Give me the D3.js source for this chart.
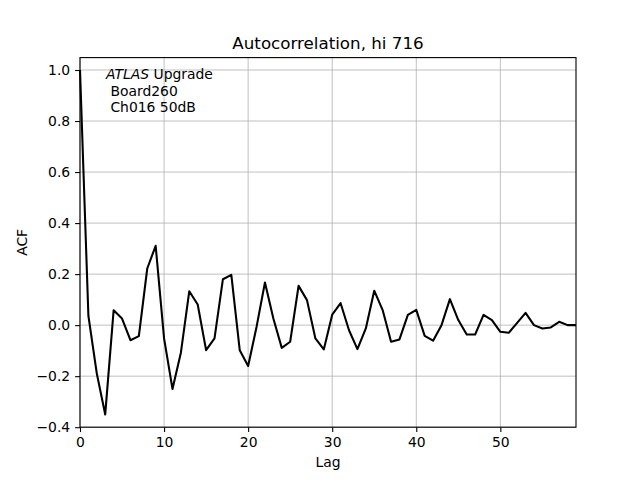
<!DOCTYPE html>
<html>
<head>
<meta charset="utf-8">
<script src="https://cdn.jsdelivr.net/npm/d3@7"></script>
<style>
  body { margin: 0; background: #fff; }
  text { font-family: "DejaVu Sans", sans-serif; fill: #000; }
</style>
</head>
<body>
<div class="acf-chart-container"></div>
<script>
// ACF values, lag 0..59
var lags = d3.range(0, 60);
var acfValues = [
    1.0, 0.036, -0.19, -0.35, 0.058, 0.026, -0.059, -0.043, 0.222, 0.311,
    -0.052, -0.25, -0.108, 0.133, 0.081, -0.098, -0.052, 0.18, 0.197, -0.098,
    -0.16, -0.007, 0.167, 0.026, -0.089, -0.065, 0.154, 0.098, -0.052, -0.095,
    0.041, 0.086, -0.02, -0.094, -0.013, 0.135, 0.059, -0.065, -0.056, 0.04,
    0.06, -0.042, -0.061, 0.0, 0.102, 0.02, -0.037, -0.037, 0.04, 0.02,
    -0.026, -0.03, 0.009, 0.048, 0.0, -0.013, -0.009, 0.013, 0.0, 0.0
];
var xTicks = [0, 10, 20, 30, 40, 50];
var yTicks = [-0.4, -0.2, 0.0, 0.2, 0.4, 0.6, 0.8, 1.0];
var titleText = "Autocorrelation, hi 716";
var noteLines = [" Board260", " Ch016 50dB"];

var margin = { top: 57.6, right: 64, bottom: 52.8, left: 80 },
    width = 640 - margin.left - margin.right,
    height = 480 - margin.top - margin.bottom;

var svg = d3.select('.acf-chart-container')
    .append('svg')
    .attr("width", 640)
    .attr("height", 480)
    .append("g")
    .attr("transform", "translate(" + margin.left + "," + margin.top + ")");

var x = d3.scaleLinear()
    .domain([0, 59])
    .range([0, width]);

var y = d3.scaleLinear()
    .domain([-0.4, 1.0486])
    .range([height, 0]);

// grid
svg.append("g")
    .selectAll("line")
    .data(xTicks)
    .enter().append("line")
    .attr("x1", function(d) { return x(d); })
    .attr("x2", function(d) { return x(d); })
    .attr("y1", 0)
    .attr("y2", height)
    .attr("stroke", "#b0b0b0")
    .attr("stroke-width", 0.8);

svg.append("g")
    .selectAll("line")
    .data(yTicks)
    .enter().append("line")
    .attr("x1", 0)
    .attr("x2", width)
    .attr("y1", function(d) { return y(d); })
    .attr("y2", function(d) { return y(d); })
    .attr("stroke", "#b0b0b0")
    .attr("stroke-width", 0.8);

// acf line
var line = d3.line()
    .x(function(d, i) { return x(lags[i]); })
    .y(function(d) { return y(d); });

svg.append("path")
    .datum(acfValues)
    .attr("fill", "none")
    .attr("stroke", "#000")
    .attr("stroke-width", 2.08)
    .attr("stroke-linejoin", "round")
    .attr("d", line);

// axes
var xAxis = d3.axisBottom(x)
    .tickValues(xTicks)
    .tickFormat(d3.format("d"))
    .tickSize(4.9)
    .tickPadding(4.9);

var yAxis = d3.axisLeft(y)
    .tickValues(yTicks)
    .tickFormat(function(d) { return d3.format(".1f")(d).replace("-", "\u2212"); })
    .tickSize(4.9)
    .tickPadding(4.9);

var gx = svg.append("g")
    .attr("transform", "translate(0," + height + ")")
    .call(xAxis);
var gy = svg.append("g")
    .call(yAxis);

[gx, gy].forEach(function(g) {
    g.select(".domain").remove();
    g.selectAll(".tick line").attr("stroke", "#000").attr("stroke-width", 1.1);
    g.selectAll(".tick text")
        .style("font-family", "DejaVu Sans")
        .style("font-size", "13.9px")
        .attr("fill", "#000");
});

// frame
svg.append("rect")
    .attr("width", width)
    .attr("height", height)
    .attr("fill", "none")
    .attr("stroke", "#000")
    .attr("stroke-width", 1.1);

// title and labels
svg.append("text")
    .attr("x", width / 2)
    .attr("y", -8.5)
    .attr("text-anchor", "middle")
    .style("font-size", "16.7px")
    .text(titleText);

svg.append("text")
    .attr("x", width / 2)
    .attr("y", height + 40.3)
    .attr("text-anchor", "middle")
    .style("font-size", "13.9px")
    .text("Lag");

svg.append("text")
    .attr("transform", "translate(" + (-53.5) + "," + (height / 2) + ") rotate(-90)")
    .attr("text-anchor", "middle")
    .style("font-size", "13.9px")
    .text("ACF");

// note
var note = svg.append("text")
    .attr("x", 26)
    .attr("y", 21.5)
    .style("font-size", "13.9px");
note.append("tspan").style("font-style", "italic").text("ATLAS");
note.append("tspan").text(" Upgrade");

svg.selectAll(".note-line")
    .data(noteLines)
    .enter().append("text")
    .attr("class", "note-line")
    .attr("x", 26)
    .attr("y", function(d, i) { return 21.5 + 16.5 * (i + 1); })
    .attr("xml:space", "preserve")
    .style("white-space", "pre")
    .style("font-size", "13.9px")
    .text(function(d) { return d; });
</script>
</body>
</html>
